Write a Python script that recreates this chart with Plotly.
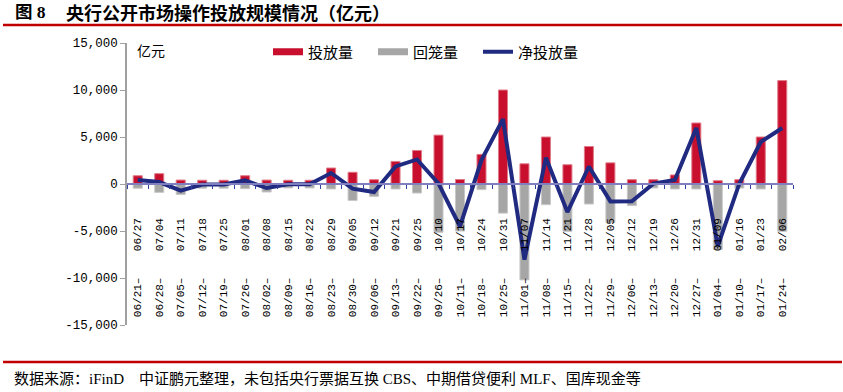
import plotly.graph_objects as go

categories = [
    "06/21–\u00a0\u00a0\u00a0\u00a006/27", "06/28–\u00a0\u00a0\u00a0\u00a007/04", "07/05–\u00a0\u00a0\u00a0\u00a007/11",
    "07/12–\u00a0\u00a0\u00a0\u00a007/18", "07/19–\u00a0\u00a0\u00a0\u00a007/25", "07/26–\u00a0\u00a0\u00a0\u00a008/01",
    "08/02–\u00a0\u00a0\u00a0\u00a008/08", "08/09–\u00a0\u00a0\u00a0\u00a008/15", "08/16–\u00a0\u00a0\u00a0\u00a008/22",
    "08/23–\u00a0\u00a0\u00a0\u00a008/29", "08/30–\u00a0\u00a0\u00a0\u00a009/05", "09/06–\u00a0\u00a0\u00a0\u00a009/12",
    "09/13–\u00a0\u00a0\u00a0\u00a009/21", "09/22–\u00a0\u00a0\u00a0\u00a009/25", "09/26–\u00a0\u00a0\u00a0\u00a010/10",
    "10/11–\u00a0\u00a0\u00a0\u00a010/17", "10/18–\u00a0\u00a0\u00a0\u00a010/24", "10/25–\u00a0\u00a0\u00a0\u00a010/31",
    "11/01–\u00a0\u00a0\u00a0\u00a011/07", "11/08–\u00a0\u00a0\u00a0\u00a011/14", "11/15–\u00a0\u00a0\u00a0\u00a011/21",
    "11/22–\u00a0\u00a0\u00a0\u00a011/28", "11/29–\u00a0\u00a0\u00a0\u00a012/05", "12/06–\u00a0\u00a0\u00a0\u00a012/12",
    "12/13–\u00a0\u00a0\u00a0\u00a012/19", "12/20–\u00a0\u00a0\u00a0\u00a012/26", "12/27–\u00a0\u00a0\u00a0\u00a012/31",
    "01/04–\u00a0\u00a0\u00a0\u00a001/09", "01/10–\u00a0\u00a0\u00a0\u00a001/16", "01/17–\u00a0\u00a0\u00a0\u00a001/23",
    "01/24–\u00a0\u00a0\u00a0\u00a002/06",
]

invest = [880, 1100, 420, 400, 400, 880, 420, 400, 400, 1700, 1250, 460, 2400, 3570, 5200, 480,
          3150, 10000, 2150, 5000, 2050, 3990, 2250, 460, 460, 960, 6490, 350, 460, 5000, 11000]

withdraw = [-450, -890, -1120, -450, -450, -500, -850, -420, -420, -530, -1750, -1320, -530, -960,
            -5150, -5000, -600, -3100, -10200, -2200, -5040, -2130, -4100, -2300, -420, -530, -530,
            -6950, -430, -530, -5040]

net = [430, 210, -700, -50, -50, 380, -430, -20, -20, 1170, -500, -860, 1870, 2610, 50, -4520,
       2550, 6900, -8050, 2800, -2990, 1860, -1850, -1840, 40, 430, 5960, -6600, 30, 4470, 5960]

y_tickvals = [15000, 10000, 5000, 0, -5000, -10000, -15000]
y_ticktext = ["15,000", "10,000", "5,000", "0", "-5,000", "-10,000", "-15,000"]

series_names = ["投放量", "回笼量", "净投放量"]

RED = "#C8102E"
GRAY = "#A6A6A6"
NAVY = "#202A80"
CJK = "Noto Sans CJK SC"

fig = go.Figure()
fig.add_trace(go.Bar(x=categories, y=invest, name=series_names[0], marker_color=RED,
                     marker_line=dict(color="#E07A88", width=1), width=0.42, showlegend=False))
fig.add_trace(go.Bar(x=categories, y=withdraw, name=series_names[1], marker_color=GRAY,
                     marker_line=dict(color="#C8C8C8", width=1), width=0.42, showlegend=False))
fig.add_trace(go.Scatter(x=categories, y=net, name=series_names[2], mode="lines",
                         line=dict(color=NAVY, width=4), showlegend=False))

# legend entries
fig.add_trace(go.Scatter(x=[None], y=[None], name=series_names[0], mode="lines",
                         line=dict(color=RED, width=7)))
fig.add_trace(go.Scatter(x=[None], y=[None], name=series_names[1], mode="lines",
                         line=dict(color=GRAY, width=7)))
fig.add_trace(go.Scatter(x=[None], y=[None], name=series_names[2], mode="lines",
                         line=dict(color=NAVY, width=4)))

W, H = 843, 392
L, R, T, B = 127, 50, 43, 67
pw, ph = W - L - R, H - T - B

def px(x):
    return (x - L) / pw

def py(y):
    return (H - B - y) / ph

fig.update_layout(
    width=W, height=H, autosize=False,
    margin=dict(l=L, r=R, t=T, b=B, pad=0, autoexpand=False),
    paper_bgcolor="white", plot_bgcolor="white",
    barmode="relative",
    font=dict(family=CJK, color="black"),
    legend=dict(orientation="h", x=px(268), xanchor="left", y=py(52), yanchor="middle",
                font=dict(family=CJK, size=15, color="black"), entrywidth=60,
                entrywidthmode="pixels", bgcolor="rgba(0,0,0,0)", borderwidth=0),
    xaxis=dict(type="category", anchor="free", position=0.5, showline=True,
               linecolor="#8080C0", linewidth=1.5, ticks="outside", tickson="boundaries",
               ticklen=4, tickcolor="#3040A0", tickwidth=1, tickangle=-90,
               tickfont=dict(family="Liberation Mono", size=11, color="black"),
               ticklabelstandoff=29, showgrid=False, zeroline=False, fixedrange=True,
               automargin=False),
    yaxis=dict(range=[-15000, 15000], tickvals=y_tickvals, ticktext=y_ticktext,
               showline=True, linecolor="#A0A0A0", linewidth=1.5, ticks="outside",
               ticklen=5, tickcolor="#A0A0A0", showgrid=False, zeroline=False,
               tickfont=dict(family="Liberation Mono", size=12.5, color="black"),
               fixedrange=True, automargin=False),
    shapes=[
        dict(type="line", xref="paper", yref="paper", x0=px(3), x1=px(842), y0=py(25), y1=py(25),
             line=dict(color="#C00000", width=2.5)),
        dict(type="line", xref="paper", yref="paper", x0=px(3), x1=px(842), y0=py(362), y1=py(362),
             line=dict(color="#C00000", width=2.5)),
    ],
    annotations=[
        dict(text="<b>图 8</b>", xref="paper", yref="paper", x=px(13), y=py(12), xanchor="left",
             yanchor="middle", showarrow=False,
             font=dict(family="Liberation Serif, " + CJK, size=17.5, color="black")),
        dict(text="<b>央行公开市场操作投放规模情况（亿元）</b>", xref="paper", yref="paper",
             x=px(64), y=py(12), xanchor="left", yanchor="middle", showarrow=False,
             font=dict(family=CJK, size=18, color="black")),
        dict(text="亿元", xref="paper", yref="paper", x=px(151), y=py(50), xanchor="center",
             yanchor="middle", showarrow=False, font=dict(family=CJK, size=14, color="black")),
        dict(text="数据来源：iFinD\u3000中证鹏元整理，未包括央行票据互换 CBS、中期借贷便利 MLF、国库现金等",
             xref="paper", yref="paper", x=px(12), y=py(378), xanchor="left", yanchor="middle",
             showarrow=False, font=dict(family="Liberation Serif, " + CJK, size=15, color="black")),
    ],
)

fig.write_html("out.html", config={"displayModeBar": False},
               post_script="document.body.style.margin='0';document.body.style.overflow='hidden';")
